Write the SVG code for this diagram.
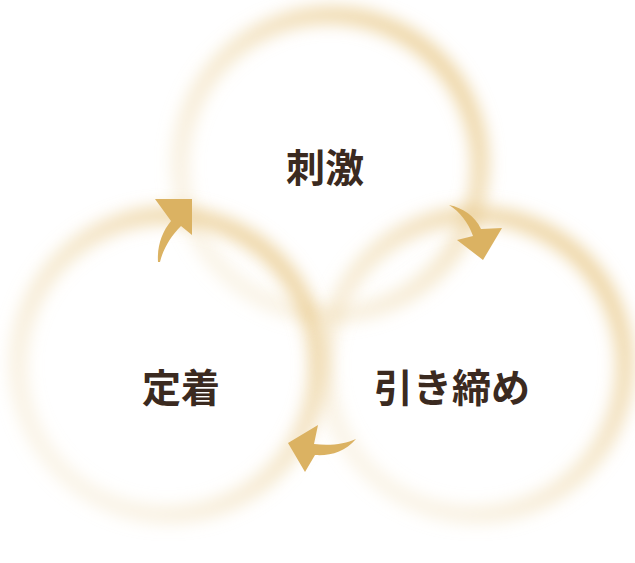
<svg xmlns="http://www.w3.org/2000/svg" width="635" height="563" viewBox="0 0 635 563">
<defs>
<filter id="blur" x="-20%" y="-20%" width="140%" height="140%"><feGaussianBlur stdDeviation="8"/></filter>
<linearGradient id="g" x1="1" y1="0" x2="0" y2="1">
<stop offset="0" stop-color="#e6c27a" stop-opacity="0.85"/>
<stop offset="0.5" stop-color="#ecd29e" stop-opacity="0.5"/>
<stop offset="1" stop-color="#f2e2c0" stop-opacity="0.25"/>
</linearGradient>
<style>
.ring{fill:none;stroke:url(#g);stroke-width:18;filter:url(#blur)}
.arrow{fill:#dbb262}
.lbl{font-family:"Noto Sans CJK JP","Noto Sans CJK SC",sans-serif;font-weight:700;font-size:39px;fill:#3b2a20;text-anchor:middle;dominant-baseline:central}
</style>
</defs>
<rect width="635" height="563" fill="#ffffff"/>
<g id="node-top"><circle class="ring" cx="330" cy="165" r="150"/><text class="lbl" x="325" y="165">刺激</text></g>
<g id="node-left"><circle class="ring" cx="168" cy="365" r="150"/><text class="lbl" x="181" y="385">定着</text></g>
<g id="node-right"><circle class="ring" cx="475" cy="365" r="150"/><text class="lbl" x="452" y="385">引き締め</text></g>
<g id="connectors">
<path class="arrow" d="M158,262 C157,246 162,232 171,221 L155,199 L192,199 L192,235 L181,226 C171,236 163,249 160,262 Z"/>
<path class="arrow" d="M449,205 C463,208 475,216 481,229 L502,228 L483,260 L457,240 L473,236 C468,222 460,212 449,205 Z"/>
<path class="arrow" d="M356,439 C345,452 330,456 315,455 L305,472 L288,443 L318,425 L314,444 C330,446 345,444 356,439 Z"/>
</g>
</svg>
